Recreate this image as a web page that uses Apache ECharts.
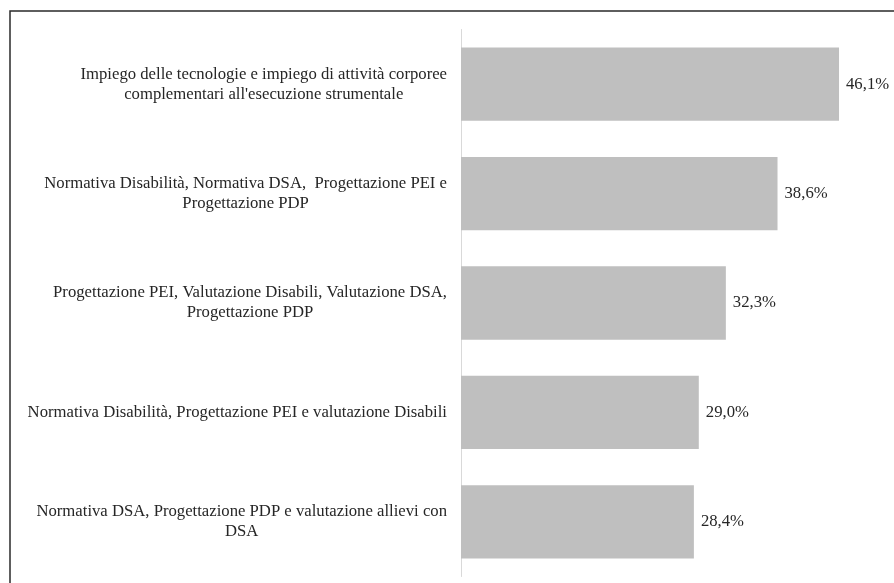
<!DOCTYPE html>
<html>
<head>
<meta charset="utf-8">
<script src="https://cdn.jsdelivr.net/npm/echarts@6/dist/echarts.min.js"></script>
<style>
  html, body { margin: 0; padding: 0; background: #fff; }
  #chart { width: 894px; height: 583px; }
</style>
</head>
<body>
<div id="chart"></div>
<script>
// Training topics (top to bottom) and share of respondents, in percent
const categories = [
  "Impiego delle tecnologie e impiego di attività corporee\ncomplementari all'esecuzione strumentale",
  "Normativa Disabilità, Normativa DSA,  Progettazione PEI e\nProgettazione PDP",
  "Progettazione PEI, Valutazione Disabili, Valutazione DSA,\nProgettazione PDP",
  "Normativa Disabilità, Progettazione PEI e valutazione Disabili",
  "Normativa DSA, Progettazione PDP e valutazione allievi con\nDSA"
];
const values = [46.1, 38.6, 32.3, 29.0, 28.4];

const chart = echarts.init(document.getElementById('chart'), null, { renderer: 'canvas' });

const serif = '"Liberation Serif", "Times New Roman", serif';

chart.setOption({
  backgroundColor: '#ffffff',
  animation: false,
  graphic: [{
    type: 'rect',
    shape: { x: 10, y: 11, width: 1000, height: 700 },
    style: { fill: 'none', stroke: '#2a2a2a', lineWidth: 1.5 },
    silent: true
  }],
  grid: { left: 461, top: 29.5, right: 23, bottom: 6.5, containLabel: false },
  xAxis: {
    type: 'value',
    min: 0,
    max: 50,
    show: false
  },
  yAxis: {
    type: 'category',
    data: categories,
    inverse: true,
    axisLine: { show: true, lineStyle: { color: '#d9d9d9', width: 1 } },
    axisTick: { show: false },
    axisLabel: {
      margin: 14,
      align: 'right',
      formatter: function (v) { return '{c|' + v + '}'; },
      rich: {
        c: {
          align: 'center',
          fontFamily: serif,
          fontSize: 16.7,
          lineHeight: 20,
          color: '#262626'
        }
      }
    }
  },
  series: [{
    type: 'bar',
    data: values,
    barCategoryGap: '33%',
    itemStyle: { color: '#bfbfbf' },
    label: {
      show: true,
      position: 'right',
      distance: 7,
      fontFamily: serif,
      fontSize: 16.7,
      color: '#262626',
      formatter: function (p) { return p.value.toFixed(1).replace('.', ',') + '%'; }
    }
  }]
});
</script>
</body>
</html>
